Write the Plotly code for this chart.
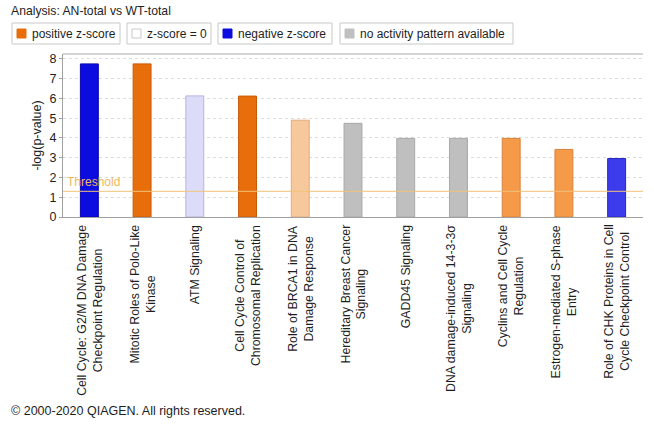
import plotly.graph_objects as go

# Canonical pathways, ranked by significance
pathways = [
    "Cell Cycle: G2/M DNA Damage<br>Checkpoint Regulation",
    "Mitotic Roles of Polo-Like<br>Kinase",
    "ATM Signaling",
    "Cell Cycle Control of<br>Chromosomal Replication",
    "Role of BRCA1 in DNA<br>Damage Response",
    "Hereditary Breast Cancer<br>Signaling",
    "GADD45 Signaling",
    "DNA damage-induced 14-3-3σ<br>Signaling",
    "Cyclins and Cell Cycle<br>Regulation",
    "Estrogen-mediated S-phase<br>Entry",
    "Role of CHK Proteins in Cell<br>Cycle Checkpoint Control",
]
neg_log_p = [7.75, 7.75, 6.13, 6.12, 4.9, 4.74, 3.98, 3.98, 3.98, 3.42, 2.96]
bar_colors = ["#0c0ce0", "#e86e0c", "#dcdcf8", "#e86e0c", "#f6c89c", "#bfbfbf",
              "#bfbfbf", "#bfbfbf", "#f59a48", "#f59a48", "#3c3cec"]
edge_colors = ["#0808b0", "#c85a08", "#b4b4e2", "#c85a08", "#e0ac80", "#a8a8a8",
               "#a8a8a8", "#a8a8a8", "#d8823a", "#d8823a", "#2828c0"]
threshold = 1.3
y_ticks = [0, 1, 2, 3, 4, 5, 6, 7, 8]

legend_items = ["positive z-score", "z-score = 0", "negative z-score", "no activity pattern available"]
legend_swatch = ["#e86e0c", "#ffffff", "#0c0ce0", "#c0c0c0"]
legend_swatch_edge = ["#e86e0c", "#c8c8c8", "#0c0ce0", "#c0c0c0"]
legend_boxes = [(12, 120), (127, 211), (218, 332), (340, 513)]

W, H = 654, 426
L, R, T, B = 63, 643, 54, 217
FONT = "Liberation Sans"
TEXT = "#1e1e1e"


def px_x(p):
    return (p - L) / (R - L)


def px_y(p):
    return (B - p) / (B - T)


fig = go.Figure(go.Bar(
    x=pathways,
    y=neg_log_p,
    marker=dict(color=bar_colors, line=dict(color=edge_colors, width=1)),
    width=0.34,
    hoverinfo="x+y",
))

shapes = []
annotations = []

# threshold line
shapes.append(dict(type="line", xref="paper", yref="y", x0=0, x1=1,
                   y0=threshold, y1=threshold, line=dict(color="#f2c27a", width=1)))
annotations.append(dict(text="Threshold", xref="paper", yref="y", x=0.004, y=threshold,
                        xanchor="left", yanchor="bottom", yshift=0, showarrow=False,
                        font=dict(family=FONT, size=12, color="#eeb85c")))
# top frame line
shapes.append(dict(type="line", xref="paper", yref="paper", x0=0, x1=1, y0=1, y1=1,
                   line=dict(color="#a8a8a8", width=1)))

# rotated category labels below the axis
for name in pathways:
    annotations.append(dict(text=name, x=name, xref="x", yref="paper", y=px_y(223),
                            xanchor="center", yanchor="top", textangle=-90, align="center",
                            showarrow=False, font=dict(family=FONT, size=12.3, color=TEXT)))

# header
annotations.append(dict(text="Analysis: AN-total vs WT-total", xref="paper", yref="paper",
                        x=px_x(9), y=px_y(11), xanchor="left", yanchor="middle", showarrow=False,
                        font=dict(family=FONT, size=12.2, color=TEXT)))

# legend boxes
for label, sw, swe, (x0, x1) in zip(legend_items, legend_swatch, legend_swatch_edge, legend_boxes):
    shapes.append(dict(type="rect", xref="paper", yref="paper",
                       x0=px_x(x0), x1=px_x(x1), y0=px_y(44), y1=px_y(23),
                       line=dict(color="#c8c8c8", width=1), fillcolor="#ffffff"))
    shapes.append(dict(type="rect", xref="paper", yref="paper",
                       x0=px_x(x0 + 5), x1=px_x(x0 + 14), y0=px_y(38), y1=px_y(29),
                       line=dict(color=swe, width=1), fillcolor=sw))
    annotations.append(dict(text=label, xref="paper", yref="paper", x=px_x(x0 + 18), y=px_y(33.5),
                            xanchor="left", yanchor="middle", showarrow=False,
                            font=dict(family=FONT, size=12, color=TEXT)))

# footer
annotations.append(dict(text="© 2000-2020 QIAGEN. All rights reserved.", xref="paper", yref="paper",
                        x=px_x(9), y=px_y(411), xanchor="left", yanchor="middle", showarrow=False,
                        font=dict(family=FONT, size=12.5, color=TEXT)))

fig.update_layout(
    width=W, height=H,
    margin=dict(l=L, r=W - R, t=T, b=H - B, pad=0),
    plot_bgcolor="#ffffff", paper_bgcolor="#ffffff",
    font=dict(family=FONT, size=11, color=TEXT),
    showlegend=False,
    bargap=0.66,
    shapes=shapes,
    annotations=annotations,
    xaxis=dict(showticklabels=False, ticks="", showgrid=False, showline=True,
               linecolor="#a0a0a0", linewidth=1, fixedrange=True),
    yaxis=dict(range=[0, 8.25], tickvals=y_ticks, ticks="outside", ticklen=3, tickcolor="#a0a0a0",
               showline=True, linecolor="#a0a0a0", linewidth=1,
               showgrid=True, gridcolor="#dcdcdc", griddash="dot", gridwidth=1,
               zeroline=False, tickfont=dict(family=FONT, size=12.5, color=TEXT),
               title=dict(text="-log(p-value)", standoff=5,
                          font=dict(family=FONT, size=12.5, color=TEXT)),
               fixedrange=True),
)

fig.write_html("out.html")
